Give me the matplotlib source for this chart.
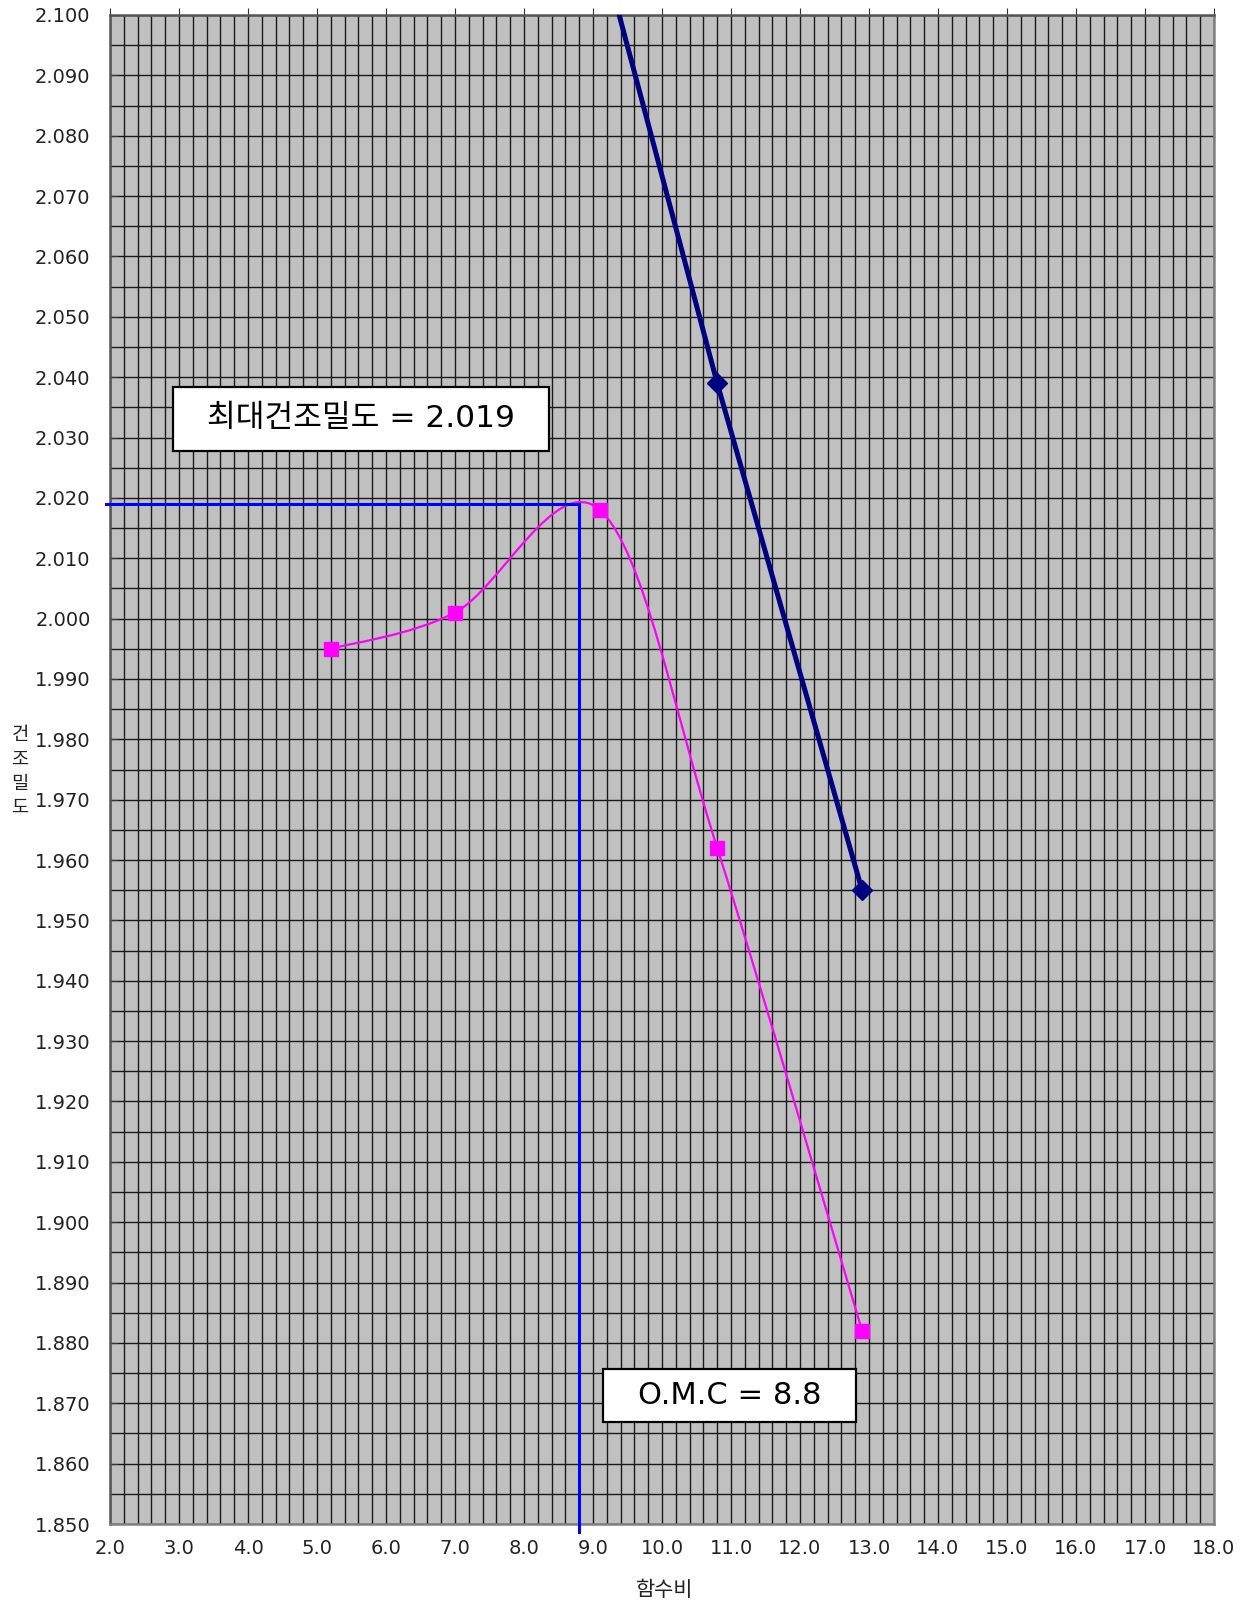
import numpy as np
import matplotlib
matplotlib.use('Agg')
import matplotlib.pyplot as plt
from matplotlib.path import Path
from matplotlib.patches import PathPatch, Rectangle
from matplotlib.ticker import MultipleLocator, FormatStrFormatter

plt.rcParams['font.family'] = ['DejaVu Sans', 'Noto Sans CJK KR']

# 다짐시험 결과
water = [5.2, 7.0, 9.1, 10.8, 12.9]
density = [1.995, 2.001, 2.018, 1.962, 1.882]
# 영공기간극곡선
zav_water = [9.1, 10.8, 12.9]
zav_density = [2.112, 2.039, 1.955]
max_density = 2.019
omc = 8.8

xmin, xmax = 2.0, 18.0
ymin, ymax = 1.85, 2.10

fig = plt.figure(figsize=(12.51, 16.04), dpi=100)
ax = fig.add_axes([110/1251, 1-1524/1604, 1104/1251, 1509/1604])
ax.set_facecolor('#c0c0c0')
ax.set_xlim(xmin, xmax)
ax.set_ylim(ymin, ymax)

ax.xaxis.set_major_locator(MultipleLocator(1.0))
ax.xaxis.set_minor_locator(MultipleLocator(0.2))
ax.yaxis.set_major_locator(MultipleLocator(0.01))
ax.yaxis.set_minor_locator(MultipleLocator(0.005))
ax.xaxis.set_major_formatter(FormatStrFormatter('%.1f'))
ax.yaxis.set_major_formatter(FormatStrFormatter('%.3f'))
ax.grid(which='both', color='#1a1a1a', lw=1.0)
ax.set_axisbelow(True)
ax.tick_params(which='minor', length=0)
ax.tick_params(axis='x', which='major', top=True, bottom=False, direction='out',
               length=5, color='#333333', labelsize=14, labelcolor='#222222', pad=6)
ax.tick_params(axis='y', which='major', direction='in', length=6, color='#333333',
               labelsize=14, labelcolor='#222222', pad=14)
for s in ax.spines.values():
    s.set_color('#555555')
    s.set_linewidth(1.8)
ax.spines['bottom'].set_color('#808080')
ax.spines['right'].set_color('#808080')

# 엑셀식 부드러운 선 (Catmull-Rom -> Bezier), 화면 좌표 비율로 계산
sx = 1104 / (xmax - xmin)
sy = 1509 / (ymax - ymin)
P = np.column_stack([(np.array(water) - xmin) * sx, (np.array(density) - ymin) * sy])
n = len(P)
verts = [P[0]]
codes = [Path.MOVETO]
for i in range(n - 1):
    p0 = P[i - 1] if i > 0 else P[i]
    p3 = P[i + 2] if i + 2 < n else P[i + 1]
    c1 = P[i] + (P[i + 1] - p0) / 6
    c2 = P[i + 1] - (p3 - P[i]) / 6
    verts += [c1, c2, P[i + 1]]
    codes += [Path.CURVE4] * 3
verts = np.array(verts)
verts = np.column_stack([verts[:, 0] / sx + xmin, verts[:, 1] / sy + ymin])
ax.add_patch(PathPatch(Path(verts, codes), fc='none', ec='#ff00ff', lw=1.6, zorder=4))
ax.plot(water, density, ls='none', marker='s', ms=10, color='#ff00ff', zorder=5)

ax.plot(zav_water, zav_density, color='#000080', lw=3.6, marker='D', ms=10, zorder=5)

# 최대건조밀도, OMC 표시선
ax.plot([1.94, omc], [max_density, max_density], color='#0000ff', lw=2.2, clip_on=False, zorder=6)
ax.plot([omc, omc], [max_density, 1.8487], color='#0000ff', lw=2.2, clip_on=False, zorder=6)

ax.add_patch(Rectangle((2.913, 2.0278), 8.362 - 2.913, 2.0384 - 2.0278, fc='white',
                       ec='black', lw=1.6, zorder=7))
ax.text((2.913 + 8.362) / 2, 2.0331, '최대건조밀도 = 2.019', ha='center', va='center',
        fontsize=22.5, zorder=8)
ax.add_patch(Rectangle((9.145, 1.8669), 12.812 - 9.145, 1.8757 - 1.8669, fc='white',
                       ec='black', lw=1.6, zorder=7))
ax.text((9.145 + 12.812) / 2, 1.8713, 'O.M.C = 8.8', ha='center', va='center',
        fontsize=22, zorder=8)

fig.text(665/1251, 1-1590/1604, '함수비', ha='center', va='center', fontsize=15,
         color='#222222', family='Noto Sans CJK KR')
fig.text(20/1251, 1-771/1604, '건\n조\n밀\n도', ha='center', va='center', fontsize=13.5,
         color='#222222', linespacing=1.2, family='Noto Sans CJK KR')

fig.savefig('out.png', dpi=100)
